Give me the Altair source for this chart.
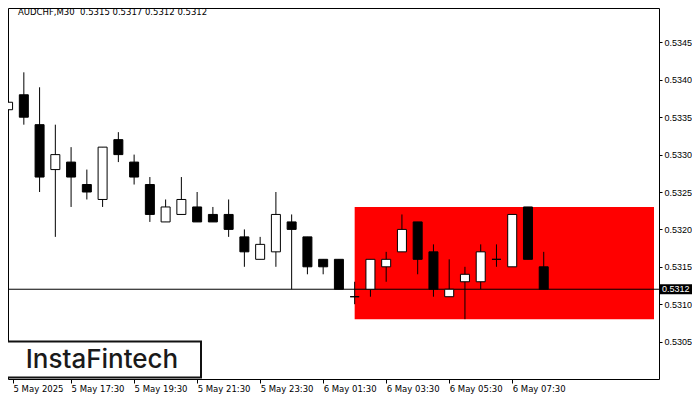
import altair as alt
import pandas as pd

# ---- data ----
bars = list(range(35))
opens = [0.5336, 0.5338, 0.5334, 0.5328, 0.5329, 0.5326, 0.5324, 0.5332, 0.5329, 0.5326,
         0.5321, 0.5322, 0.5323, 0.5322, 0.5322, 0.5319, 0.5316, 0.5317, 0.5321, 0.5319,
         0.5316, 0.5316, 0.5311, 0.5312, 0.5315, 0.5317, 0.5321, 0.5317, 0.5311, 0.5313,
         0.5313, 0.5316, 0.5315, 0.5323, 0.5315]
highs = [0.5342, 0.5341, 0.5339, 0.5334, 0.5331, 0.5328, 0.5331, 0.5333, 0.5330, 0.5327,
         0.5324, 0.5327, 0.5325, 0.5323, 0.5324, 0.5320, 0.5319, 0.5325, 0.5322, 0.5319,
         0.5316, 0.5316, 0.5313, 0.5316, 0.5317, 0.5322, 0.5321, 0.5318, 0.5316, 0.5315,
         0.5318, 0.5318, 0.5322, 0.5323, 0.5317]
lows = [0.5334, 0.5334, 0.5325, 0.5319, 0.5323, 0.5324, 0.5323, 0.5329, 0.5326, 0.5321,
        0.5321, 0.5322, 0.5321, 0.5321, 0.5319, 0.5315, 0.5316, 0.5315, 0.5312, 0.5314,
        0.5314, 0.5312, 0.5310, 0.5311, 0.5313, 0.5317, 0.5314, 0.5311, 0.5311, 0.5308,
        0.5312, 0.5315, 0.5315, 0.5316, 0.5312]
closes = [0.5337, 0.5335, 0.5327, 0.5330, 0.5327, 0.5325, 0.5331, 0.5330, 0.5327, 0.5322,
          0.5323, 0.5324, 0.5321, 0.5321, 0.5320, 0.5317, 0.5318, 0.5322, 0.5320, 0.5315,
          0.5315, 0.5312, 0.5311, 0.5316, 0.5316, 0.5320, 0.5316, 0.5312, 0.5312, 0.5314,
          0.5317, 0.5316, 0.5322, 0.5316, 0.5312]

x_label_bars = [0, 4, 8, 12, 16, 20, 24, 28, 32]
x_labels = ["5 May 2025", "5 May 17:30", "5 May 19:30", "5 May 21:30", "5 May 23:30",
            "6 May 01:30", "6 May 03:30", "6 May 05:30", "6 May 07:30"]
y_ticks = [0.5305, 0.5310, 0.5315, 0.5320, 0.5325, 0.5330, 0.5335, 0.5340, 0.5345]

zone_start_bar = [22]
zone_end_bar = [41]
zone_low = [0.5308]
zone_high = [0.5323]

price_level = [0.5312]
symbol = "AUDCHF,M30"
header_values = [0.5315, 0.5317, 0.5312, 0.5312]
logo_text = "InstaFintech"

# ---- scales / axes ----
FONT = "DejaVu Sans"
YFONT = "Liberation Sans"
X_MIN, X_MAX = 0.3125, 41.0
Y_MIN, Y_MAX = 0.5300, 0.53496

x_axis = alt.Axis(
    orient="bottom", values=[max(b, X_MIN) for b in x_label_bars],
    labelExpr="[" + ",".join("'%s'" % s for s in x_labels) + "][round(datum.value/4)]",
    labelAlign="left", labelBaseline="top", labelFlush=False, labelOverlap=False,
    tickSize=4, tickColor="black", labelPadding=1, domain=False, grid=False,
    labelFont=FONT, labelFontSize=8.5, labelColor="black", title=None,
)
y_axis = alt.Axis(
    orient="right", values=y_ticks, format=".4f", tickSize=3, tickColor="black",
    labelPadding=2, domain=False, grid=False, labelFont=YFONT, labelFontSize=9,
    labelColor="black", title=None, labelOverlap=False, labelFlush=False,
)
xs = alt.Scale(domain=[X_MIN, X_MAX], nice=False, zero=False)
ys = alt.Scale(domain=[Y_MIN, Y_MAX], nice=False, zero=False)


def X(f):
    return alt.X(f, type="quantitative", scale=xs, axis=x_axis)


def Y(f):
    return alt.Y(f, type="quantitative", scale=ys, axis=y_axis)


candles = pd.DataFrame({"i": bars, "o": opens, "h": highs, "l": lows, "c": closes})
zone = pd.DataFrame({"x0": zone_start_bar, "x1": zone_end_bar, "lo": zone_low, "hi": zone_high})
price = pd.DataFrame({"p": price_level, "t": ["%.4f" % v for v in price_level]})
header = pd.DataFrame({"t": [symbol + "\u00a0\u00a0" + " ".join("%.4f" % v for v in header_values)]})
logo = pd.DataFrame({"t": [logo_text]})

zone_layer = alt.Chart(zone).mark_rect(color="#ff0000", clip=True).encode(
    x=X("x0"), x2="x1", y=Y("lo"), y2="hi")

price_line = alt.Chart(price).mark_rule(color="black", strokeWidth=1).encode(y=Y("p"))

wicks = alt.Chart(candles).mark_rule(color="black", strokeWidth=1, clip=True).encode(
    x=X("i"), y=Y("l"), y2="h")

bodies = alt.Chart(candles).mark_bar(size=9, stroke="black", strokeWidth=1, clip=True).encode(
    x=X("i"), y=Y("o"), y2="c",
    fill=alt.condition("datum.c >= datum.o", alt.value("white"), alt.value("black")))

price_box = alt.Chart(price).mark_rule(color="black", strokeWidth=10, clip=False).encode(
    y=Y("p"), x=alt.value(652), x2=alt.value(684))
price_text = alt.Chart(price).mark_text(
    align="left", baseline="middle", color="white", font=YFONT, fontSize=9, clip=False
).encode(y=Y("p"), x=alt.value(654), text="t:N")

header_text = alt.Chart(header).mark_text(
    align="left", baseline="middle", color="black", font=FONT, fontSize=8.5
).encode(x=alt.value(10), y=alt.value(4), text="t:N")

logo_box = alt.Chart(logo).mark_rect(fill="white", stroke="#111111", strokeWidth=2).encode(
    x=alt.value(-6), x2=alt.value(193), y=alt.value(333.5), y2=alt.value(369.5))
logo_label = alt.Chart(logo).mark_text(
    align="center", baseline="alphabetic", color="#1a1a1a", font="Inter",
    fontSize=26, fontWeight=500
).encode(x=alt.value(94), y=alt.value(359.5), text="t:N")

chart = alt.layer(
    zone_layer, price_line, wicks, bodies, price_box, price_text,
    header_text, logo_box, logo_label
).properties(
    width=651, height=371,
    padding={"left": 0, "top": 0, "right": 33, "bottom": 21},
    autosize=alt.AutoSizeParams(type="none"),
    background="white",
).configure_view(stroke="black", strokeWidth=1)

chart.save("out.html", embed_options={"renderer": "svg", "actions": False})
